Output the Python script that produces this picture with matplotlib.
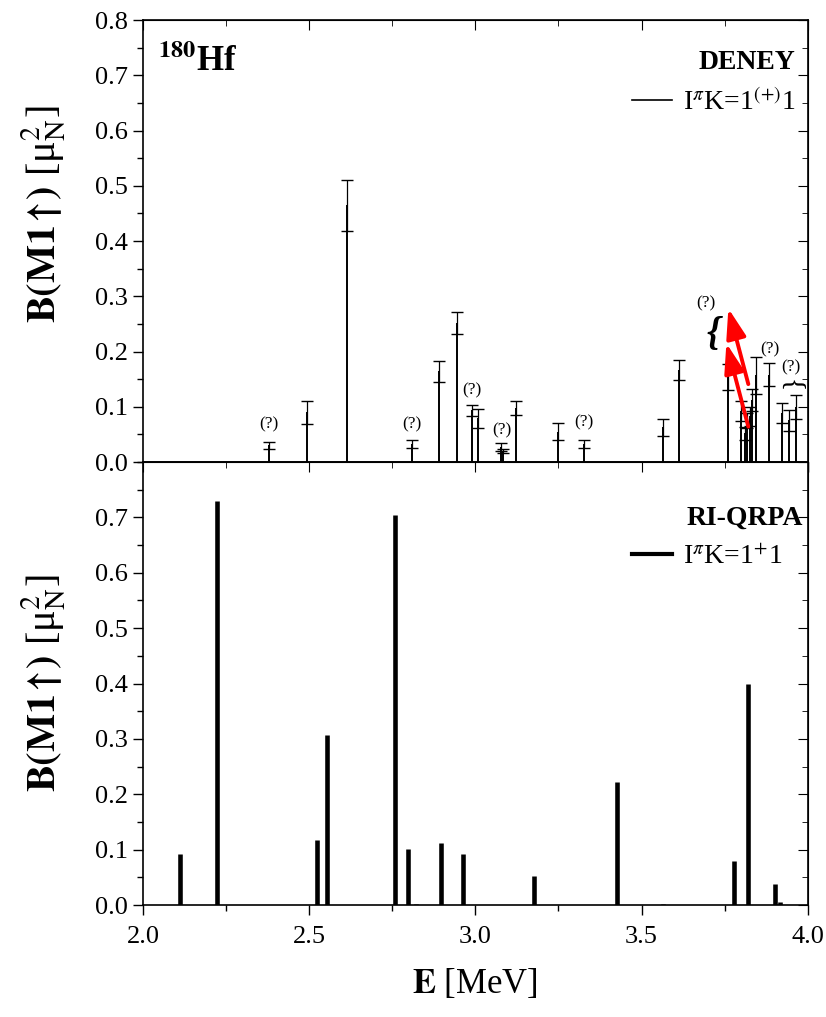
#!/usr/bin/env python3
# -*- coding: utf-8 -*-
'''
B(M1) strength in 180Hf: DENEY (experiment) vs RI-QRPA
'''
import matplotlib
matplotlib.use('Agg')
import matplotlib.pyplot as plt
from matplotlib.lines import Line2D
from matplotlib.ticker import MultipleLocator

plt.rcParams['font.family'] = ['Liberation Serif', 'DejaVu Serif']
plt.rcParams['mathtext.fontset'] = 'stix'

#---------------------------- data --------------------------------#
# experiment (DENEY): energy [MeV], B(M1) [muN^2], error
exp_E = [2.379, 2.493, 2.614, 2.810, 2.890, 2.946, 2.990, 3.009, 3.077, 3.084,
         3.123, 3.250, 3.326, 3.564, 3.613, 3.759, 3.800, 3.810, 3.816, 3.825,
         3.832, 3.845, 3.883, 3.922, 3.943, 3.963]
exp_B = [0.030, 0.090, 0.465, 0.032, 0.164, 0.252, 0.094, 0.079, 0.027, 0.020,
         0.098, 0.055, 0.033, 0.063, 0.166, 0.154, 0.093, 0.052, 0.075, 0.083,
         0.112, 0.157, 0.158, 0.088, 0.076, 0.100]
exp_err = [0.007, 0.021, 0.046, 0.007, 0.019, 0.020, 0.010, 0.017, 0.007, 0.004,
           0.013, 0.016, 0.007, 0.015, 0.018, 0.023, 0.018, 0.012, 0.014, 0.017,
           0.020, 0.033, 0.021, 0.018, 0.019, 0.022]

# labels of uncertain states (centre of the "(?)" text)
q_E = [2.379, 2.810, 2.990, 3.081, 3.326, 3.693, 3.885, 3.948]
q_y = [0.069, 0.069, 0.130, 0.058, 0.072, 0.288, 0.203, 0.171]

# RI-QRPA
th_E = [2.112, 2.222, 2.420, 2.525, 2.554, 2.655, 2.759, 2.798, 2.820, 2.896,
        2.962, 3.175, 3.425, 3.565, 3.778, 3.820, 3.900, 3.917]
th_B = [0.092, 0.730, 0.001, 0.117, 0.308, 0.001, 0.705, 0.102, 0.002, 0.113,
        0.092, 0.053, 0.222, 0.002, 0.080, 0.400, 0.038, 0.006]

#---------------------------- plot --------------------------------#
fig = plt.figure(figsize=(8.26, 10.17), dpi=100)
ax1 = fig.add_axes([0.173, 0.5457, 0.805, 0.4346])
ax2 = fig.add_axes([0.173, 0.110, 0.805, 0.4357])

TICK_FS = 19
LAB_FS = 25
YLAB = r'$\mathbf{B(M1\!\uparrow\!)}$ [μ$_{\mathrm{N}}^{\mathrm{2}}$]'

ax1.vlines(exp_E, 0, exp_B, color='black', lw=1.4)
ax1.errorbar(exp_E, exp_B, yerr=exp_err, fmt='none', ecolor='black',
             elinewidth=0.9, capsize=4.5, capthick=1.0)
for e, y in zip(q_E, q_y):
    ax1.text(e, y, '(?)', fontsize=12.5, ha='center', va='center')
ax1.text(3.714, 0.232, '{', fontsize=28, fontweight='bold', style='italic',
         ha='center', va='center')
ax1.text(3.948, 0.139, '{', fontsize=20, rotation=-90, ha='center', va='center')

# red arrows
ax1.annotate('', xy=(3.755, 0.215), xytext=(3.821, 0.064),
             arrowprops=dict(arrowstyle='-|>,head_length=0.9,head_width=0.3',
                             color='red', lw=2.8, mutation_scale=20,
                             shrinkA=0, shrinkB=0))
ax1.annotate('', xy=(3.761, 0.278), xytext=(3.821, 0.141),
             arrowprops=dict(arrowstyle='-|>,head_length=0.9,head_width=0.3',
                             color='red', lw=2.8, mutation_scale=20,
                             shrinkA=0, shrinkB=0))

ax1.text(0.022, 0.945, r'$^{\mathbf{180}}$Hf', transform=ax1.transAxes,
         fontsize=25, fontweight='bold', ha='left', va='top')
ax1.text(0.908, 0.903, 'DENEY', transform=ax1.transAxes, fontsize=20,
         fontweight='bold', ha='center', va='center')
h1 = Line2D([], [], color='black', lw=1.2)
ax1.legend([h1], [r'I$^{\pi}$K=1$^{(+)}$1'], loc='upper left',
           bbox_to_anchor=(0.735, 0.845), frameon=False, fontsize=20,
           borderpad=0, borderaxespad=0, handlelength=1.44, handletextpad=0.4)

ax2.vlines(th_E, 0, th_B, color='black', lw=3.3)
ax2.text(0.905, 0.873, 'RI-QRPA', transform=ax2.transAxes, fontsize=20,
         fontweight='bold', ha='center', va='center')
h2 = Line2D([], [], color='black', lw=3.0)
ax2.legend([h2], [r'I$^{\pi}$K=1$^{+}$1'], loc='upper left',
           bbox_to_anchor=(0.735, 0.815), frameon=False, fontsize=20,
           borderpad=0, borderaxespad=0, handlelength=1.44, handletextpad=0.4)

for ax in (ax1, ax2):
    ax.set_xlim(2.0, 4.0)
    ax.set_ylim(0.0, 0.8)
    ax.xaxis.set_major_locator(MultipleLocator(0.5))
    ax.xaxis.set_minor_locator(MultipleLocator(0.25))
    ax.yaxis.set_major_locator(MultipleLocator(0.1))
    ax.yaxis.set_minor_locator(MultipleLocator(0.05))
    ax.tick_params(which='major', direction='out', length=7, width=1.0,
                   labelsize=TICK_FS)
    ax.tick_params(which='minor', direction='out', length=4, width=1.0)
    for s in ax.spines.values():
        s.set_linewidth(1.2)
    top = ax.secondary_xaxis('top')
    top.xaxis.set_major_locator(MultipleLocator(0.5))
    top.xaxis.set_minor_locator(MultipleLocator(0.25))
    top.tick_params(which='major', direction='in', length=7, labeltop=False)
    top.tick_params(which='minor', direction='in', length=4)
    right = ax.secondary_yaxis('right')
    right.yaxis.set_major_locator(MultipleLocator(0.1))
    right.yaxis.set_minor_locator(MultipleLocator(0.05))
    right.tick_params(which='major', direction='in', length=7, labelright=False)
    right.tick_params(which='minor', direction='in', length=4)
    ax.set_ylabel(YLAB, fontsize=29)

# Origin-style label placement (top label sits a bit above centre)
ax1.yaxis.set_label_coords(-0.112, 0.56)
ax2.yaxis.set_label_coords(-0.112, 0.50)

ax1.tick_params(labelbottom=False)
ax2.set_yticks([0.0, 0.1, 0.2, 0.3, 0.4, 0.5, 0.6, 0.7])
ax2.set_xticks([2.0, 2.5, 3.0, 3.5, 4.0])
ax2.set_xticklabels(['2.0', '2.5', '3.0', '3.5', '4.0'])
ax2.tick_params(axis='x', pad=8)
ax2.set_xlabel(r'$\mathbf{E}$ [MeV]', fontsize=LAB_FS, labelpad=14)

fig.savefig('out.png', dpi=100)
